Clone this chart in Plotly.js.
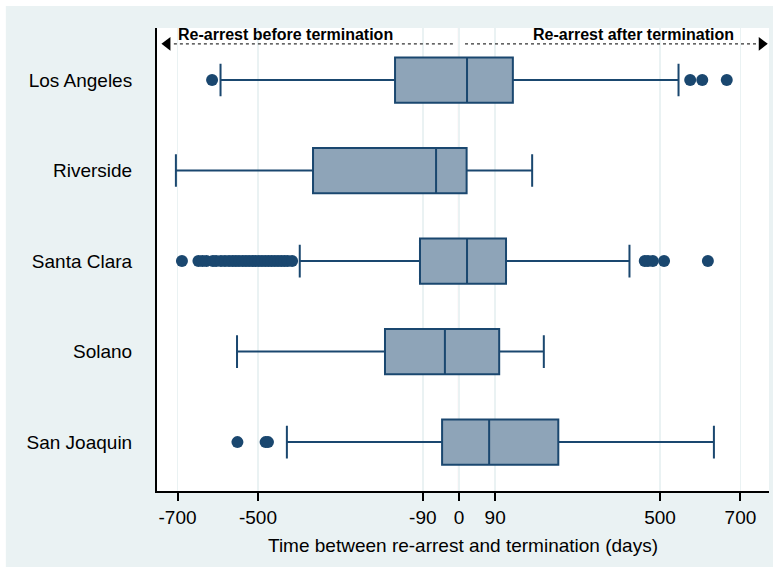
<!DOCTYPE html>
<html>
<head>
<meta charset="utf-8">
<script src="https://cdn.plot.ly/plotly-3.0.1.min.js"></script>
<style>html,body{margin:0;padding:0;background:#fff;}#chart{width:773px;height:567px;}</style>
</head>
<body>
<div id="chart"></div>
<script>
// ---- data ----
const counties = ["Los Angeles", "Riverside", "Santa Clara", "Solano", "San Joaquin"];
const lowerWhisker = [-593, -704, -396, -552, -428];
const q1 = [-159, -363, -97, -184, -42];
const median = [20, -57, 20, -35, 75];
const q3 = [134, 19, 117, 100, 247];
const upperWhisker = [546, 182, 424, 211, 634];
const outliersLA = [-614, 575, 605, 666];
const outliersRiverside = [];
const outliersSantaClara = [-689, -648, -638, -628, -612, -604, -592, -582, -572, -563, -555, -547, -538, -530, -522, -514, -506, -498, -490, -482, -474, -466, -458, -450, -442, -434, -426, -415, 462, 470, 482, 510, 619];
const outliersSolano = [];
const outliersSanJoaquin = [-551, -481, -475];
const xTicks = [-700, -500, -90, 0, 90, 500, 700];
const xTickText = ["-700", "-500", "-90", "0", "90", "500", "700"];
const windowDays = [-90, 90];
const arrowLeft = [-709, -11];   // dotted segment, before termination
const arrowRight = [15, 741];    // dotted segment, after termination
const labelBefore = "Re-arrest before termination";
const labelAfter = "Re-arrest after termination";
const xTitle = "Time between re-arrest and termination (days)";

const navy = "#1a476f";
const boxFill = "#8ea4b8";
const font = "Liberation Sans, Arial, sans-serif";
const fs = 19;

const yIdx = counties.map((c, i) => i);
const allOut = [outliersLA, outliersRiverside, outliersSantaClara, outliersSolano, outliersSanJoaquin];

const traces = [];
traces.push({
  type: "box", orientation: "h",
  y: yIdx, q1: q1, median: median, q3: q3,
  lowerfence: lowerWhisker, upperfence: upperWhisker,
  fillcolor: boxFill, line: {color: navy, width: 2},
  width: 0.5, whiskerwidth: 0.72, boxpoints: false,
  hoverinfo: "skip", showlegend: false
});
const ox = [], oy = [];
allOut.forEach((arr, i) => arr.forEach(v => { ox.push(v); oy.push(i); }));
traces.push({
  type: "scatter", mode: "markers", x: ox, y: oy,
  marker: {color: navy, size: 12, line: {width: 0}},
  hoverinfo: "skip", showlegend: false
});
const arrowY = -0.4;
traces.push({
  type: "scatter", mode: "lines", x: arrowLeft, y: [arrowY, arrowY],
  line: {color: "#333", width: 1.3, dash: "dot"}, hoverinfo: "skip", showlegend: false
});
traces.push({
  type: "scatter", mode: "lines", x: arrowRight, y: [arrowY, arrowY],
  line: {color: "#333", width: 1.3, dash: "dot"}, hoverinfo: "skip", showlegend: false
});
traces.push({
  type: "scatter", mode: "markers", x: [arrowLeft[0] - 16], y: [arrowY],
  marker: {symbol: "triangle-left", color: "#000", size: 12},
  hoverinfo: "skip", showlegend: false
});
traces.push({
  type: "scatter", mode: "markers", x: [arrowRight[1] + 12], y: [arrowY],
  marker: {symbol: "triangle-right", color: "#000", size: 12},
  hoverinfo: "skip", showlegend: false
});

const shapes = [
  {type: "line", xref: "x", yref: "paper", x0: 0, x1: 0, y0: 0, y1: 1, layer: "below",
   line: {color: "#c10534", width: 2}},
  {type: "line", xref: "x", yref: "paper", x0: windowDays[0], x1: windowDays[0], y0: 0, y1: 1, layer: "below",
   line: {color: "#9acd32", width: 1.5, dash: "dot"}},
  {type: "line", xref: "x", yref: "paper", x0: windowDays[1], x1: windowDays[1], y0: 0, y1: 1, layer: "below",
   line: {color: "#9acd32", width: 1.5, dash: "dot"}},
  {type: "rect", xref: "paper", yref: "paper", x0: -0.4, x1: 1.2, y0: 1.0476, y1: 1.3, layer: "below",
   fillcolor: "#ffffff", line: {width: 0}},
  {type: "rect", xref: "paper", yref: "paper", x0: -0.4, x1: -0.247, y0: -0.3, y1: 1.3, layer: "below",
   fillcolor: "#ffffff", line: {width: 0}}
];

const annotations = [
  {x: -432, y: -0.5, xref: "x", yref: "y", text: "<b>" + labelBefore + "</b>", showarrow: false,
   font: {family: font, size: 16, color: "#000"}, yanchor: "middle"},
  {x: 434, y: -0.5, xref: "x", yref: "y", text: "<b>" + labelAfter + "</b>", showarrow: false,
   font: {family: font, size: 16, color: "#000"}, yanchor: "middle"}
];

const layout = {
  width: 773, height: 567,
  margin: {l: 157, r: 4, t: 28, b: 76, pad: 0},
  paper_bgcolor: "#eaf2f3", plot_bgcolor: "#ffffff",
  font: {family: font, size: fs, color: "#000"},
  showlegend: false,
  xaxis: {
    range: [-751, 771], tickvals: xTicks, ticktext: xTickText,
    showgrid: true, gridcolor: "#eaf2f3", gridwidth: 1.5, zeroline: false,
    showline: true, linecolor: "#000", linewidth: 2,
    ticks: "outside", ticklen: 8, tickwidth: 2, tickcolor: "#000",
    tickfont: {family: font, size: fs, color: "#000"},
    title: {text: xTitle, font: {family: font, size: fs, color: "#000"}, standoff: 12}
  },
  yaxis: {
    range: [4.54, -0.575], tickvals: yIdx, ticktext: counties,
    showgrid: false, zeroline: false,
    showline: true, linecolor: "#000", linewidth: 2,
    ticks: "outside", ticklen: 19, tickcolor: "rgba(0,0,0,0)",
    tickfont: {family: font, size: fs, color: "#000"}
  },
  shapes: shapes,
  annotations: annotations
};

Plotly.newPlot("chart", traces, layout, {displayModeBar: false, staticPlot: true});
</script>
</body>
</html>
